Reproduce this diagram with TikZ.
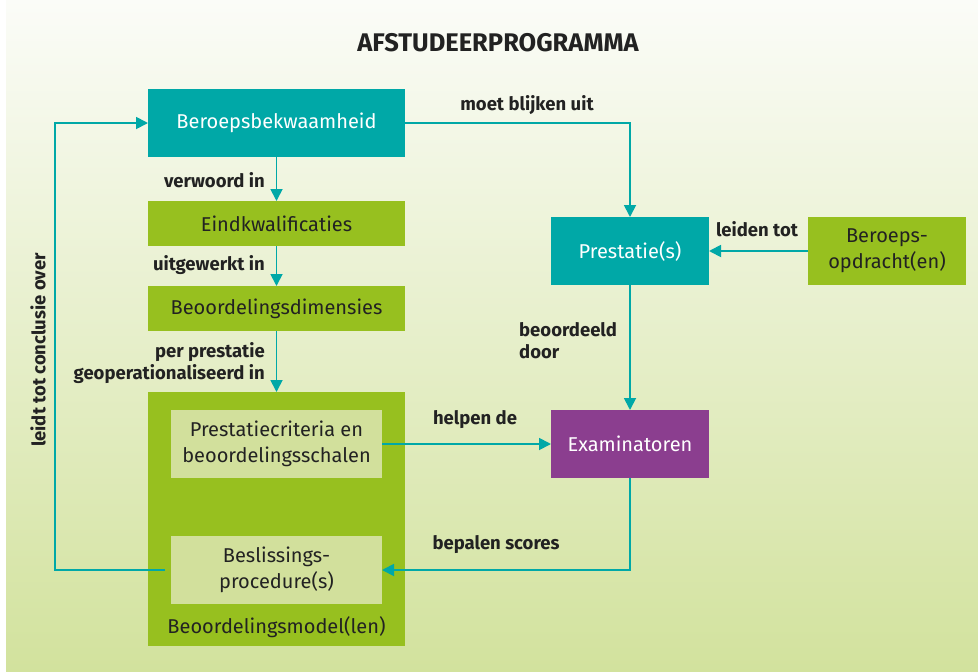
\documentclass[tikz,border=0pt]{standalone}
\usepackage{fontspec}
\setmainfont{Fira Sans}
\usetikzlibrary{positioning,arrows.meta,calc}
\definecolor{tealbox}{RGB}{0,168,167}
\definecolor{greenbox}{RGB}{151,192,31}
\definecolor{lightbox}{RGB}{210,224,156}
\definecolor{purplebox}{RGB}{139,62,143}
\definecolor{inkdark}{RGB}{34,34,34}
\definecolor{bgtop}{RGB}{251,252,248}
\definecolor{bgbot}{RGB}{210,226,157}
\tikzset{
  box/.style={rectangle, outer sep=0pt, inner sep=2pt, align=center,
    font=\fontsize{20}{26}\selectfont},
  tealnode/.style={box, fill=tealbox, text=white},
  greennode/.style={box, fill=greenbox, text=inkdark},
  innernode/.style={box, fill=lightbox, text=inkdark, minimum width=211pt, minimum height=68pt},
  purplenode/.style={box, fill=purplebox, text=white},
  conn/.style={draw=tealbox, line width=1.8pt, -{Triangle[length=12pt,width=12pt]}},
  lbl/.style={font=\fontsize{18.5}{22}\selectfont\bfseries, text=inkdark, inner sep=0pt}
}
\begin{document}
\begin{tikzpicture}[x=1pt, y=-1pt]
\useasboundingbox (0,0) rectangle (978,672);
% Achtergrond
\shade[top color=bgtop, bottom color=bgbot] (6,0) rectangle (978,672);
% Titel
\node[font=\fontsize{25.5}{28}\selectfont\bfseries, text=inkdark] (title) at (498,43) {AFSTUDEERPROGRAMMA};
% Linkerkolom
\node[tealnode, minimum width=257pt, minimum height=68pt] (bekw) at (276.5,123) {Beroepsbekwaamheid};
\node[greennode, minimum width=257pt, minimum height=45pt] (eind) at (276.5,223.5) {Eindkwalificaties};
\node[greennode, minimum width=257pt, minimum height=45pt] (dim) at (276.5,308.5) {Beoordelingsdimensies};
\node[greennode, minimum width=257pt, minimum height=254pt] (model) at (276.5,519) {};
\node[innernode] (crit) at (276.5,444) {Prestatiecriteria en\\beoordelingsschalen};
\node[innernode] (besl) at (276.5,570) {Beslissings-\\procedure(s)};
\node[box, text=inkdark] (modellbl) at (276.5,627) {Beoordelingsmodel(len)};
% Rechterkolom
\node[tealnode, minimum width=158pt, minimum height=68pt] (prest) at (630,251) {Prestatie(s)};
\node[greennode, minimum width=158pt, minimum height=68pt] (opdr) at (887,251) {Beroeps-\\opdracht(en)};
\node[purplenode, minimum width=158pt, minimum height=68pt] (exam) at (630,444) {Examinatoren};
\coordinate (terug) at (55,570);
% Verbindingen
\draw[conn] (bekw) -- (eind);
\draw[conn] (eind) -- (dim);
\draw[conn] (dim) -- (model);
\draw[conn] (bekw.east) -| (prest.north);
\draw[conn] (opdr.west) -- (prest.east);
\draw[conn] (prest.south) -- (exam.north);
\draw[conn] (crit.east) -- (exam.west);
\draw[conn] (exam.south) |- (besl.east);
\draw[conn] ([xshift=-6pt]besl.west) -- (terug) |- (bekw.west);
% Labels
\node[lbl] (l1) at (527,105) {moet blijken uit};
\node[lbl, anchor=east] (l2) at (265,180) {verwoord in};
\node[lbl, anchor=east] (l3) at (265,265) {uitgewerkt in};
\node[lbl, anchor=east, align=right] (l4) at (265,363) {per prestatie\\geoperationaliseerd in};
\node[lbl] (l5) at (757,229) {leiden tot};
\node[lbl, anchor=west, align=left] (l6) at (519,341) {beoordeeld\\door};
\node[lbl] (l7) at (475,420) {helpen de};
\node[lbl] (l8) at (496,545) {bepalen scores};
\node[lbl, rotate=90] (l9) at (38,350) {leidt tot conclusie over};
\end{tikzpicture}
\end{document}
